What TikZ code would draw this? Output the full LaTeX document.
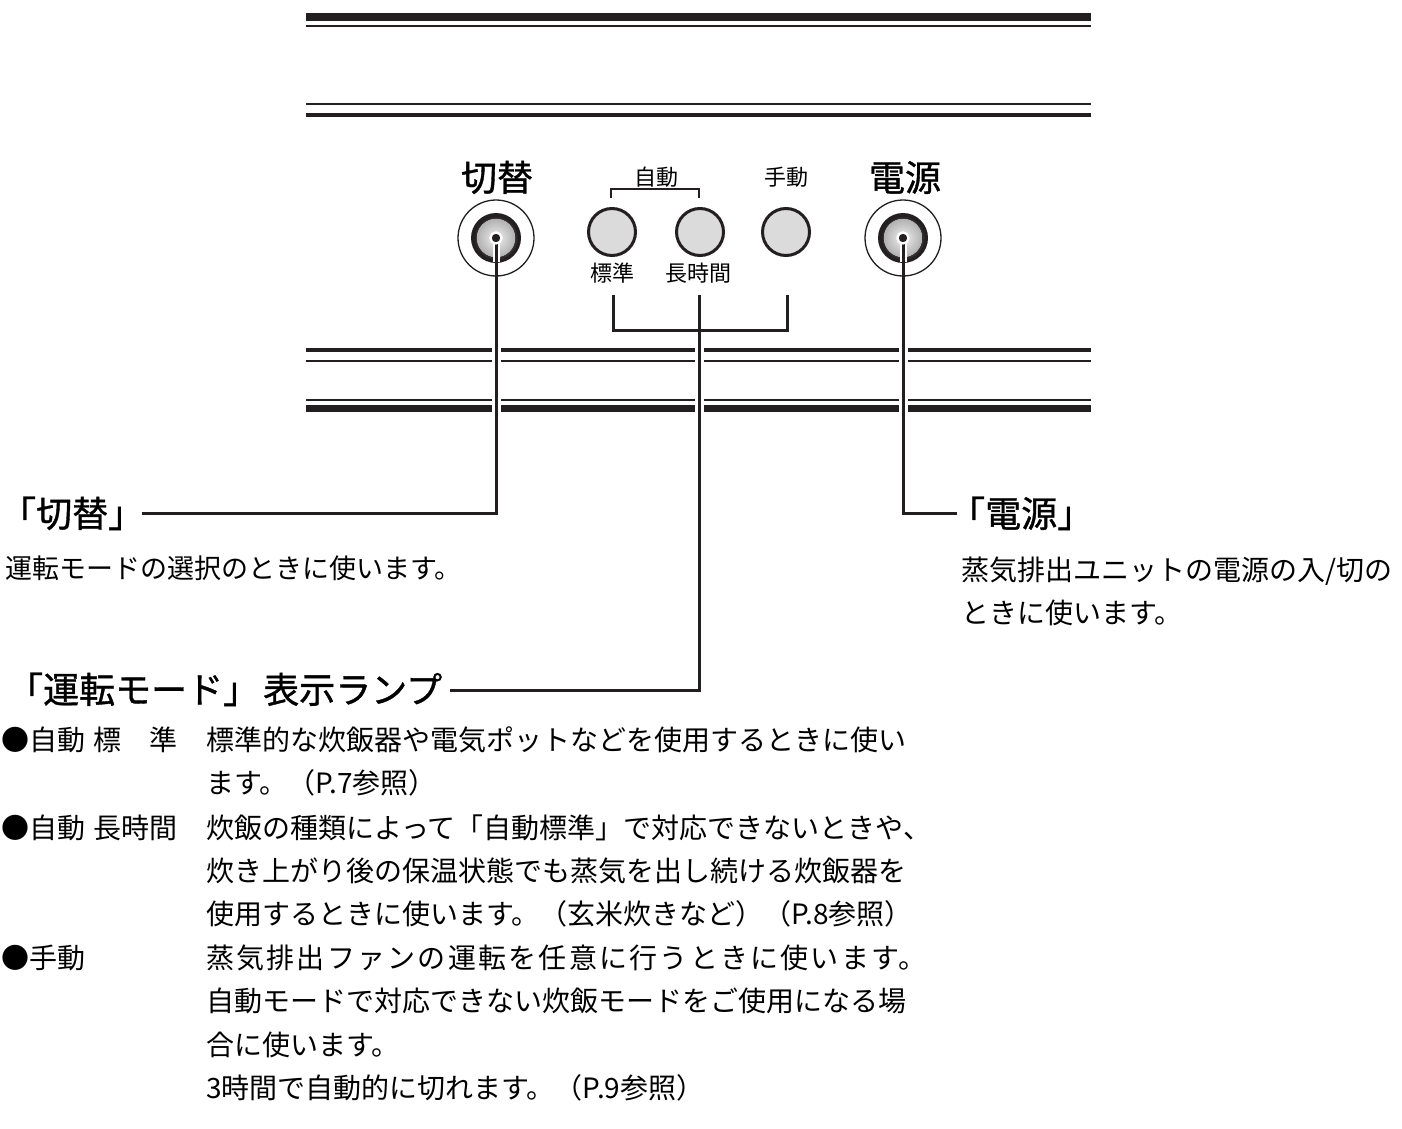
\documentclass[tikz,border=0pt]{standalone}
\usepackage{fontspec}
\setmainfont{Noto Sans CJK JP}
\newfontfamily\jpwide[LetterSpace=8]{Noto Sans CJK JP}
\newfontfamily\jphead[FakeBold=1]{Noto Sans CJK JP}
\definecolor{ink}{HTML}{231F20}
\begin{document}
\begin{tikzpicture}[x=1pt,y=-1pt,
  panel/.style={draw=ink, line cap=butt},
  wire/.style={draw=ink, line width=3pt},
  gapline/.style={draw=white, line width=9pt},
  lamp/.style={circle, draw=ink, line width=3pt, fill=gray!28, minimum size=47pt, inner sep=0pt},
  bigtxt/.style={inner sep=0pt, font=\jphead\fontsize{36}{40}\selectfont},
  smalltxt/.style={inner sep=0pt, anchor=base, font=\fontsize{22}{26}\selectfont},
  desc/.style={inner sep=0pt, anchor=base west, font=\fontsize{27}{30}\selectfont},
  body/.style={inner sep=0pt, anchor=base west, font=\fontsize{28}{32}\selectfont},
  dot/.style={circle, fill=ink, draw=white, line width=2.2pt, minimum size=11pt, inner sep=0pt},
]
\useasboundingbox[fill=white] (0,0) rectangle (1402,1129);

% panel lines
\foreach \yy/\ww in {17/7.4, 25.8/2, 104.3/2, 115.3/4, 350/3.4, 361/2, 400/2, 408.7/6.7}
  \draw[panel, line width=\ww pt] (306,\yy) -- (1091,\yy);

% knobs
\coordinate (swc) at (496,238);
\coordinate (pwc) at (903,238);
\foreach \c in {swc,pwc}{
  \draw[ink, line width=1.3pt] (\c) circle (38);
  \fill[ink] (\c) circle (25);
  \shade[inner color=gray!12, outer color=gray!62] (\c) circle (19.5);
  \shade[inner color=gray!60, outer color=ink, draw=none, even odd rule] (\c) circle (22) (\c) circle (19.5);
}

% lamps
\node[lamp] (lstd) at (612,232) {};
\node[lamp] (llong) at (700,232) {};
\node[lamp] (lman) at (786,232) {};

% labels above / below
\node[bigtxt, anchor=base] (swlbl) at (497,191) {切替};
\node[bigtxt, anchor=base] (pwlbl) at (905,191) {電源};
\node[smalltxt] (autolbl) at (656,185) {自動};
\node[smalltxt] (manlbl) at (786,185) {手動};
\node[smalltxt] (stdlbl) at (612,281) {標準};
\node[smalltxt] (longlbl) at (698,281) {長時間};

% top bracket
\draw[ink, line width=2.5pt] (611,198) -- (611,189) -- (699,189) -- (699,198);

% gaps in panel lines
\foreach \xx in {496,699,903} \draw[gapline] (\xx,342) -- (\xx,418);
\draw[white, line width=7pt] (swc) -- ++(0,24);
\draw[white, line width=7pt] (pwc) -- ++(0,24);

% wires
\node[dot] (swdot) at (swc) {};
\node[dot] (pwdot) at (pwc) {};
\coordinate (swend) at (142,513);
\coordinate (pwend) at (957,513);
\coordinate (bstd) at (613,295);
\coordinate (blong) at (699,295);
\coordinate (bman) at (787,295);
\coordinate (modeend) at (450,690);
\draw[wire] (swdot.center) |- (swend);
\draw[wire] (pwdot.center) |- (pwend);
\draw[wire] (bstd) -- ++(0,35) -| (bman);
\draw[wire] (blong) |- (modeend);
\node[dot] at (swc) {};
\node[dot] at (pwc) {};

% headings
\node[bigtxt, anchor=base west] (swhead) at (0,527) {「切替」};
\node[bigtxt, anchor=base west] (pwhead) at (949,527) {「電源」};
\node[bigtxt, anchor=base west] (modehead) at (7,703) {「運転モード」\hspace{4pt}表示ランプ};

% descriptions
\node[desc] (swdesc) at (5,578) {運転モードの選択のときに使います。};
\node[desc, font=\fontsize{28}{30}\selectfont] (pwdesc1) at (961,580) {蒸気排出ユニットの電源の入/切の};
\node[desc, font=\fontsize{28}{30}\selectfont] (pwdesc2) at (961,623) {ときに使います。};

% list
\node[body] (k1) at (1,750) {●自動\hspace{8pt}標　準};
\node[body] (k2) at (1,838) {●自動\hspace{8pt}長時間};
\node[body] (k3) at (1,968) {●手動};
\node[body] (t1) at (206,750) {標準的な炊飯器や電気ポットなどを使用するときに使い};
\node[body] (t2) at (206,793) {ます。（P.7参照）};
\node[body] (t3) at (206,838) {炊飯の種類によって「自動標準」で対応できないときや、};
\node[body] (t4) at (206,881) {炊き上がり後の保温状態でも蒸気を出し続ける炊飯器を};
\node[body] (t5) at (206,924) {使用するときに使います。（玄米炊きなど）（P.8参照）};
\node[body, font=\jpwide\fontsize{28}{32}\selectfont] (t6) at (206,968) {蒸気排出ファンの運転を任意に行うときに使います。};
\node[body] (t7) at (206,1011) {自動モードで対応できない炊飯モードをご使用になる場};
\node[body] (t8) at (206,1055) {合に使います。};
\node[body] (t9) at (206,1098) {3時間で自動的に切れます。（P.9参照）};
\end{tikzpicture}
\end{document}
